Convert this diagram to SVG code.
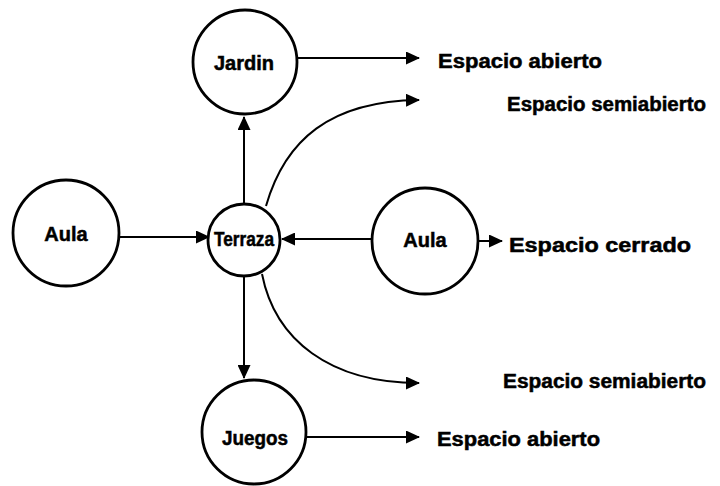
<svg xmlns="http://www.w3.org/2000/svg" width="720" height="486" viewBox="0 0 720 486">
<style>
.node{fill:#fff;stroke:#000;stroke-width:2.8}
.lbl{font-family:"Liberation Sans",Arial,sans-serif;font-weight:bold;font-size:20px;fill:#000;stroke:#000;stroke-width:0.5;text-anchor:middle}
.t{font-family:"Liberation Sans",Arial,sans-serif;font-weight:bold;font-size:20px;fill:#000;stroke:#000;stroke-width:0.5}
.c{fill:none;stroke:#000;stroke-width:2;marker-end:url(#ah)}
</style>
<defs>
<marker id="ah" markerWidth="15" markerHeight="13" refX="13" refY="6.5" orient="auto" markerUnits="userSpaceOnUse">
<path d="M0,0 L14,6.5 L0,13 Z" fill="#000"/>
</marker>
</defs>
<rect width="720" height="486" fill="#fff"/>
<g id="connectors">
<path class="c" d="M297,58 L419,58"/>
<path class="c" d="M266,206 C285,140 330,101 419,100"/>
<path class="c" d="M244,204 L244,117"/>
<path class="c" d="M119,237 L209,237"/>
<path class="c" d="M372,239 L282,239"/>
<path class="c" d="M478,241 L502,241"/>
<path class="c" d="M244,276 L244,378"/>
<path class="c" d="M262,274 C275,340 330,383 419,383"/>
<path class="c" d="M306,437 L419,437"/>
</g>
<g id="jardin"><circle class="node" cx="245" cy="62" r="52"/><text class="lbl" x="244" y="70">Jardin</text></g>
<g id="aula-left"><circle class="node" cx="66" cy="233" r="53"/><text class="lbl" x="66" y="241">Aula</text></g>
<g id="terraza"><circle class="node" cx="244" cy="240" r="36"/><text class="lbl" x="244" y="246" font-size="16" textLength="60" lengthAdjust="spacingAndGlyphs">Terraza</text></g>
<g id="aula-right"><circle class="node" cx="425" cy="241" r="53"/><text class="lbl" x="425" y="247">Aula</text></g>
<g id="juegos"><circle class="node" cx="254" cy="432" r="52"/><text class="lbl" x="255" y="445" textLength="66" lengthAdjust="spacingAndGlyphs">Juegos</text></g>
<g id="labels">
<text class="t" x="438" y="68" textLength="164" lengthAdjust="spacingAndGlyphs">Espacio  abierto</text>
<text class="t" x="507" y="111" textLength="199" lengthAdjust="spacingAndGlyphs">Espacio  semiabierto</text>
<text class="t" x="509" y="252" textLength="182" lengthAdjust="spacingAndGlyphs">Espacio  cerrado</text>
<text class="t" x="503" y="388" textLength="203" lengthAdjust="spacingAndGlyphs">Espacio  semiabierto</text>
<text class="t" x="437" y="446" textLength="163" lengthAdjust="spacingAndGlyphs">Espacio  abierto</text>
</g>
</svg>
